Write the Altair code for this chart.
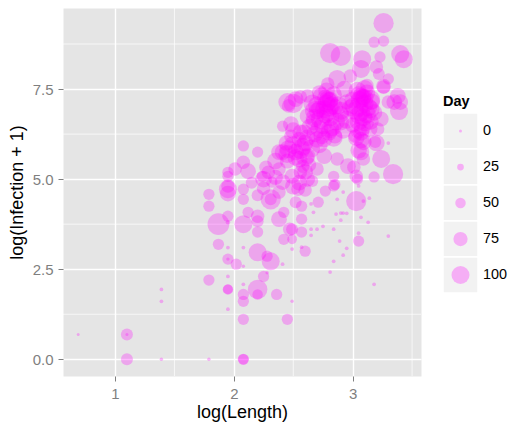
import altair as alt
import pandas as pd

# ---- data ----
log_length = [
    0.69, 1.10, 1.10, 1.10, 1.39, 1.39, 1.39, 1.79, 1.79, 1.95, 1.95, 1.95, 1.95, 2.08, 2.08, 2.08, 2.08, 2.08, 2.08,
    2.20, 2.20, 2.25, 2.28, 2.36, 2.49, 2.45,
    1.79, 1.79, 1.95, 2.08, 2.31, 2.31, 1.87, 1.95, 1.95, 2.08, 2.12, 2.20, 2.20, 2.20, 2.38, 2.42, 2.49, 1.87, 1.95,
    2.08, 2.20, 2.31, 2.28, 1.95, 2.02, 1.95, 2.08, 2.42, 2.49, 2.49, 2.41,
    2.08, 2.20, 2.08, 2.01, 1.95, 2.12, 2.29, 1.95, 2.08, 2.41, 2.48, 2.46, 2.52, 2.41, 2.46, 2.52, 2.38, 2.41, 2.38,
    2.49, 2.54, 2.52, 2.58, 2.32, 2.24, 1.95, 1.95, 2.27, 2.38, 2.56, 2.62, 2.48,
    3.26, 3.18, 3.26, 3.23, 2.81, 2.90, 3.40, 3.43, 3.08, 3.07, 3.20, 3.22, 2.87, 2.98, 3.30, 3.26, 2.79, 2.62, 3.38,
    3.40, 3.05, 3.09, 3.07, 2.77, 2.81, 2.79,
    2.45, 2.56, 2.78, 2.80, 2.82, 2.77, 2.81, 2.79, 2.70, 2.72, 2.81, 2.83, 2.76, 2.74, 2.67, 2.90, 3.06, 3.08, 3.05,
    3.09, 3.07, 3.15, 3.13, 3.00, 2.98, 3.24, 3.30, 3.35, 3.39, 3.26, 3.07, 3.05, 3.09, 3.07, 3.07, 3.05, 3.09, 3.21,
    3.19, 3.24, 3.34, 3.18, 3.30, 2.59, 2.62, 2.76, 2.87, 2.96, 3.01, 2.70, 2.56, 2.84, 3.04,
    3.03, 3.03, 3.09, 3.14, 3.05, 2.84, 2.85, 2.77, 2.92, 2.87, 2.71, 2.57, 2.65, 2.67, 2.86, 2.90, 2.92, 2.95, 2.90,
    3.07, 3.13, 2.57, 2.57, 2.65, 2.70, 2.75, 2.84, 2.65, 2.47, 3.05, 3.05, 2.89, 2.95, 2.60, 2.57, 2.92, 2.84, 2.81,
    3.30, 3.18,
    2.55, 2.60, 2.50, 2.62, 2.66,
    2.70, 2.85, 2.90, 2.75, 2.95, 3.12, 3.15, 3.00, 2.72, 3.10, 2.68, 2.85, 3.02, 3.12, 2.93,
    2.60, 2.65, 2.55, 2.72, 2.63, 2.55,
    2.66, 2.74, 2.84, 2.88, 2.76, 2.68, 2.86, 2.80, 2.72, 2.90, 2.64, 2.78, 2.70, 2.84, 2.92,
    3.04, 3.10, 3.02, 3.12, 3.05, 3.16, 3.08, 3.00, 3.14, 3.10, 3.18, 3.03,
    2.50, 2.58, 2.45, 2.62, 2.52, 2.44, 2.60,
    2.25, 2.15, 2.35, 2.20,
    2.56, 2.50, 2.45, 2.60, 2.73, 2.80, 2.95, 3.15, 3.05, 3.10, 2.68, 2.50, 2.35, 2.25, 3.20,
]
log_infection = [
    0.69, 0.69, 0.69, 0.00, 1.94, 1.61, 0.00, 0.00, 2.20, 2.30, 1.94, 1.94, 1.39, 2.08, 1.80, 1.61, 1.11, 0.00, 0.00,
    1.94, 1.80, 2.30, 2.40, 1.80, 1.61, 1.11,
    4.58, 4.25, 4.60, 4.44, 4.44, 4.44, 3.75, 3.97, 3.80, 3.75, 4.08, 3.97, 3.83, 3.53, 3.89, 4.08, 3.61, 3.19, 3.10,
    3.10, 2.97, 2.72, 2.86, 2.78, 2.64, 2.78, 2.58, 3.33, 3.33, 3.06, 2.64,
    5.92, 5.75, 5.47, 5.28, 5.08, 5.22, 5.19, 4.72, 4.72, 6.47, 6.19, 7.03, 7.22, 5.75, 5.83, 5.75, 5.28, 4.92, 4.64,
    5.08, 4.72, 4.36, 5.36, 4.92, 5.08, 4.81, 5.19, 5.33, 5.75, 6.30, 6.75, 6.53,
    9.33, 8.80, 8.83, 8.39, 8.50, 8.42, 8.47, 8.33, 8.33, 8.06, 8.11, 7.92, 7.78, 7.86, 7.78, 7.56, 7.64, 7.31, 7.31,
    7.14, 7.35, 7.28, 7.31, 7.25, 7.20, 7.22,
    7.14, 7.28, 7.10, 7.16, 7.05, 6.80, 6.72, 6.85, 6.89, 6.95, 6.39, 6.45, 6.11, 6.20, 6.58, 6.58, 7.20, 7.25, 6.78,
    6.72, 6.85, 6.94, 7.00, 7.03, 6.98, 6.67, 7.14, 7.14, 6.89, 7.58, 6.30, 6.35, 6.03, 6.08, 5.75, 5.80, 5.56, 6.39,
    6.03, 5.56, 5.14, 5.06, 6.00, 6.30, 5.64, 5.64, 5.56, 5.36, 5.33, 5.28, 5.19, 5.08, 5.00,
    5.08, 4.39, 4.39, 4.47, 4.81, 4.81, 4.85, 4.67, 4.64, 4.44, 4.36, 4.25, 4.31, 4.08, 4.03, 4.06, 4.06, 4.05, 3.86,
    3.94, 3.80, 3.89, 3.53, 3.61, 3.61, 3.69, 3.61, 3.44, 3.61, 3.50, 3.28, 3.28, 3.08, 3.00, 3.11, 2.89, 2.72, 2.42,
    3.42, 2.08,
    4.90, 4.70, 4.80, 5.00, 4.95,
    7.05, 7.00, 6.80, 6.50, 7.15, 7.40, 6.60, 6.50, 7.40, 7.10, 6.25, 6.20, 6.20, 7.60, 7.50,
    6.00, 5.85, 6.10, 5.95, 5.40, 5.55,
    7.10, 7.30, 7.35, 7.05, 6.95, 6.70, 6.60, 6.30, 6.40, 6.90, 6.45, 7.45, 6.10, 6.15, 6.35,
    7.45, 7.25, 6.90, 6.80, 6.60, 7.15, 6.45, 7.20, 6.40, 7.50, 6.85, 6.15,
    6.35, 5.90, 5.50, 6.15, 5.60, 6.00, 5.20,
    4.75, 4.90, 5.05, 4.55,
    5.83, 5.95, 5.70, 5.60, 6.67, 7.00, 6.65, 7.20, 7.00, 6.60, 6.90, 7.10, 5.50, 5.00, 6.00,
]
day = [
    0, 60, 0, 60, 5, 5, 3, 3, 55, 5, 50, 45, 5, 5, 55, 55, 55, 55, 50,
    110, 50, 55, 3, 55, 3, 55,
    55, 55, 85, 55, 115, 60, 125, 55, 10, 100, 55, 70, 60, 55, 85, 55, 60, 55, 5,
    5, 100, 100, 55, 55, 55, 3, 3, 55, 45, 5, 5,
    55, 55, 70, 70, 55, 85, 70, 100, 55, 55, 70, 70, 85, 85, 100, 90, 70, 85, 70,
    80, 70, 60, 70, 55, 55, 70, 55, 70, 85, 85, 85, 85,
    115, 55, 55, 55, 115, 115, 100, 100, 100, 100, 70, 60, 100, 70, 55, 70, 70, 70, 85,
    85, 90, 90, 90, 90, 90, 90,
    100, 70, 100, 100, 100, 100, 100, 100, 90, 90, 100, 100, 90, 90, 90, 90, 100, 100, 100,
    100, 100, 100, 100, 90, 90, 80, 70, 85, 100, 80, 90, 90, 90, 90, 90, 90, 70, 70,
    60, 100, 115, 55, 5, 85, 85, 85, 70, 85, 70, 70, 70, 55, 55,
    70, 115, 5, 5, 5, 55, 55, 55, 5, 5, 55, 55, 5, 5, 5, 5, 5, 5, 5,
    5, 5, 55, 55, 5, 5, 5, 5, 5, 70, 5, 55, 5, 5, 55, 5, 5, 5, 5,
    5, 5,
    85, 70, 90, 80, 60,
    100, 90, 90, 100, 80, 90, 90, 80, 80, 100, 90, 80, 70, 70, 90,
    90, 100, 80, 90, 80, 90,
    100, 100, 90, 100, 100, 100, 100, 90, 100, 100, 90, 90, 90, 100, 90,
    100, 100, 100, 100, 100, 90, 100, 90, 90, 100, 90, 90,
    90, 100, 80, 90, 90, 80, 85,
    70, 60, 80, 60,
    110, 100, 100, 100, 110, 110, 100, 110, 110, 110, 110, 110, 90, 90, 90,
]

minor_x = [1.5, 2.5, 3.5]
minor_y = [1.25, 3.75, 6.25, 8.75]
x_ticks = [1, 2, 3]
y_ticks = [0, 2.5, 5, 7.5]
legend_days = [0, 25, 50, 75, 100]

df = pd.DataFrame({"logLength": log_length, "logInf": log_infection, "Day": day})

FONT = "Liberation Sans"
X_DOMAIN = [0.562, 3.575]
Y_DOMAIN = [-0.464, 9.75]
PINK = "#FF00FF"
ALPHA = 0.28

xs = alt.Scale(domain=X_DOMAIN, nice=False, zero=False)
ys = alt.Scale(domain=Y_DOMAIN, nice=False, zero=False)
size_scale = alt.Scale(type="pow", exponent=2, domain=[0, 140], range=[0, 441])

xa = alt.Axis(title="log(Length)", values=x_ticks, format="d", labelColor="#7F7F7F", labelFontSize=15,
              labelFont=FONT, tickColor="#7F7F7F", tickSize=5, tickWidth=1, labelPadding=5, domain=False,
              gridColor="white", gridWidth=1.4, titleFont=FONT, titleFontSize=18, titleFontWeight="normal",
              titleColor="black", titleBaseline="alphabetic", titleY=41)
ya = alt.Axis(title="log(Infection + 1)", values=y_ticks, format=".1f", labelColor="#7F7F7F", labelFontSize=15,
              labelFont=FONT, tickColor="#7F7F7F", tickSize=5, tickWidth=1, labelPadding=5, domain=False,
              gridColor="white", gridWidth=1.4, titleFont=FONT, titleFontSize=18, titleFontWeight="normal",
              titleColor="black", titleBaseline="alphabetic", titleX=-41, titleY=184)

grid_x = alt.Chart(pd.DataFrame({"v": minor_x})).mark_rule(color="white", strokeWidth=0.7).encode(
    x=alt.X("v:Q", scale=xs, axis=xa))
grid_y = alt.Chart(pd.DataFrame({"v": minor_y})).mark_rule(color="white", strokeWidth=0.7).encode(
    y=alt.Y("v:Q", scale=ys, axis=ya))
points = alt.Chart(df).transform_calculate(s="datum.Day + 20").mark_circle(color=PINK, opacity=ALPHA).encode(
    x=alt.X("logLength:Q", scale=xs, axis=xa),
    y=alt.Y("logInf:Q", scale=ys, axis=ya),
    size=alt.Size("s:Q", scale=size_scale, legend=None),
)
main = alt.layer(grid_x, grid_y, points)

# ---- legend (ggplot-style keys) ----
leg_df = pd.DataFrame({"Day": legend_days})
ly = alt.Y("Day:O", sort=legend_days, scale=alt.Scale(range=[105, 285], paddingInner=0, paddingOuter=0), axis=None)
keys = alt.Chart(leg_df).mark_rect(fill="#F2F2F2", stroke="white", strokeWidth=1.5).encode(
    y=ly, x=alt.value(380), x2=alt.value(415))
dots = alt.Chart(leg_df).transform_calculate(s="datum.Day + 20").mark_circle(color=PINK, opacity=ALPHA).encode(
    y=ly, x=alt.value(397.5), size=alt.Size("s:Q", scale=size_scale, legend=None))
labels = alt.Chart(leg_df).mark_text(align="left", baseline="middle", font=FONT, fontSize=14.4, color="black").encode(
    y=ly, x=alt.value(420), text="Day:N")
ltitle = alt.Chart(pd.DataFrame({"t": ["Day"]})).mark_text(
    align="left", baseline="alphabetic", font=FONT, fontSize=14.5, fontWeight="bold", color="black").encode(
    x=alt.value(380), y=alt.value(97.5), text="t:N")
legend = alt.layer(keys, dots, labels, ltitle)

chart = alt.layer(main, legend).resolve_scale(y="independent").properties(
    width=358, height=368,
    padding={"left": 63, "top": 8, "right": 89, "bottom": 46},
    autosize=alt.AutoSizeParams(type="none"),
).configure_view(fill="#E5E5E5", stroke="transparent")

chart.save("out.html", embed_options={"renderer": "svg", "actions": False})
